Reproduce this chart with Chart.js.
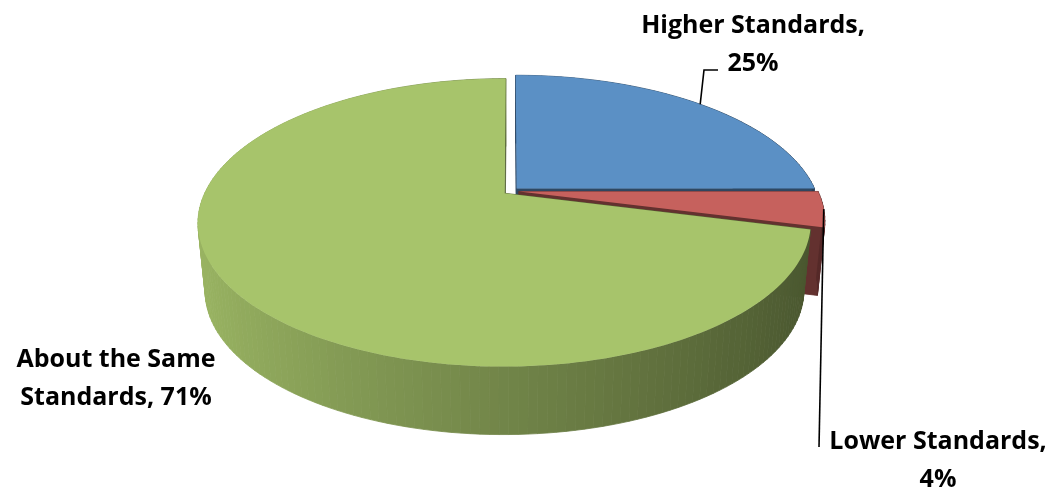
<!DOCTYPE html>
<html>
<head>
<meta charset="utf-8">
<script src="https://cdn.jsdelivr.net/npm/chart.js@4.4.1/dist/chart.umd.min.js"></script>
<style>
  html, body { margin: 0; padding: 0; background: #fff; }
</style>
</head>
<body>
<canvas id="pie" width="1062" height="491"></canvas>
<script>
const categories = ['Higher Standards', 'Lower Standards', 'About the Same Standards'];
const shares = [25, 4, 71];
const topColors = ['#5b90c5', '#c6615d', '#a7c46b'];

// label centre x / first baseline, and the bends of each leader line
const labelAnchors = [[753, 33], [938, 449], [116, 367]];
const leaderBends = [[[704, 70], [718, 70]], [[819, 447]], []];

// fake 3D look: tilt + a bit of perspective, wall height, slice explosion
const TILT = 0.4585, PERSP = 0.203, DEPTH = 68, SHRINK = 0.977, EXPLODE = 8;

function shade(hex, f) {
  const n = parseInt(hex.slice(1), 16);
  const c = [(n >> 16) & 255, (n >> 8) & 255, n & 255].map(v => Math.round(v * f));
  return 'rgb(' + c.join(',') + ')';
}

// disc point (relative to centre, in px) -> screen
function project(arc, wx, wy, bottom) {
  const r = arc.outerRadius;
  const u = wx / r, v = wy / r;
  const w = 1 - PERSP * v;
  const s = bottom ? SHRINK : 1;
  return [arc.x + r * s * u / w, arc.y + (bottom ? DEPTH : 0) + r * TILT * v / w];
}

function sliceGeom(arc) {
  const mid = (arc.startAngle + arc.endAngle) / 2;
  const ex = Math.cos(mid) * EXPLODE, ey = Math.sin(mid) * EXPLODE;
  const r = arc.outerRadius;
  return { mid, ex, ey, r, rim: a => [ex + r * Math.cos(a), ey + r * Math.sin(a)] };
}

function fillPoly(ctx, pts, color, edge) {
  ctx.beginPath();
  ctx.moveTo(pts[0][0], pts[0][1]);
  for (let i = 1; i < pts.length; i++) ctx.lineTo(pts[i][0], pts[i][1]);
  ctx.closePath();
  ctx.fillStyle = color;
  ctx.fill();
  if (edge) {
    ctx.strokeStyle = color;
    ctx.lineWidth = edge;
    ctx.stroke();
  }
}

function wrap(ctx, text, maxWidth) {
  const words = text.split(' ');
  const lines = [];
  let line = '';
  words.forEach(w => {
    const test = line ? line + ' ' + w : w;
    if (line && ctx.measureText(test).width > maxWidth) {
      lines.push(line);
      line = w;
    } else {
      line = test;
    }
  });
  if (line) lines.push(line);
  return lines;
}

const pie3d = {
  id: 'pie3d',
  beforeDatasetsDraw(chart) {
    const ctx = chart.ctx;
    const arcs = chart.getDatasetMeta(0).data;
    const walls = [];
    const tops = [];

    arcs.forEach((arc, i) => {
      const g = sliceGeom(arc);
      const a0 = arc.startAngle, a1 = arc.endAngle;
      const base = topColors[i];
      const steps = Math.max(2, Math.ceil((a1 - a0) / (Math.PI / 120)));
      const angles = [];
      for (let k = 0; k <= steps; k++) angles.push(a0 + (a1 - a0) * k / steps);

      tops.push({
        color: base,
        pts: [project(arc, g.ex, g.ey, false)].concat(angles.map(a => project(arc, ...g.rim(a), false)))
      });

      // outer wall, in thin strips so it can be lit by angle
      for (let k = 0; k < steps; k++) {
        const p = g.rim(angles[k]), q = g.rim(angles[k + 1]);
        const am = (angles[k] + angles[k + 1]) / 2;
        walls.push({
          key: Math.sin(am),
          color: shade(base, 0.68 - 0.25 * Math.cos(am)),
          pts: [project(arc, ...p, false), project(arc, ...q, false),
                project(arc, ...q, true), project(arc, ...p, true)]
        });
      }

      // the two cut faces of the slice
      [a0, a1].forEach(a => {
        const p = g.rim(a);
        walls.push({
          key: g.ey / g.r + Math.sin(a) * 0.5,
          color: shade(base, 0.5),
          pts: [project(arc, g.ex, g.ey, false), project(arc, ...p, false),
                project(arc, ...p, true), project(arc, g.ex, g.ey, true)]
        });
      });
    });

    // back to front
    walls.sort((m, n) => m.key - n.key);
    walls.forEach(w => fillPoly(ctx, w.pts, w.color, 0.8));
    tops.forEach(t => fillPoly(ctx, t.pts, t.color, 0));
    return false;
  },
  afterDraw(chart) {
    const ctx = chart.ctx;
    const arcs = chart.getDatasetMeta(0).data;
    ctx.save();
    ctx.font = 'bold 25px "Open Sans"';
    ctx.fillStyle = '#000';
    ctx.textAlign = 'center';
    ctx.textBaseline = 'alphabetic';
    chart.data.labels.forEach((name, i) => {
      const value = chart.data.datasets[0].data[i];
      const lines = wrap(ctx, name + ', ' + value + '%', 240);
      const [lx, ly] = labelAnchors[i];
      lines.forEach((line, k) => ctx.fillText(line, lx, ly + k * 38));

      if (leaderBends[i].length) {
        const arc = arcs[i];
        const g = sliceGeom(arc);
        const start = project(arc, ...g.rim(g.mid), false);
        ctx.beginPath();
        ctx.moveTo(start[0], start[1]);
        leaderBends[i].forEach(p => ctx.lineTo(p[0], p[1]));
        ctx.strokeStyle = '#000';
        ctx.lineWidth = 1.6;
        ctx.stroke();
      }
    });
    ctx.restore();
  }
};

new Chart(document.getElementById('pie'), {
  type: 'pie',
  data: {
    labels: categories,
    datasets: [{
      data: shares,
      backgroundColor: topColors,
      borderWidth: 0,
      radius: 299
    }]
  },
  options: {
    responsive: false,
    animation: false,
    events: [],
    layout: { padding: { left: 0, right: 40, top: 0, bottom: 109 } },
    plugins: {
      legend: { display: false },
      tooltip: { enabled: false }
    }
  },
  plugins: [pie3d]
});
</script>
</body>
</html>
